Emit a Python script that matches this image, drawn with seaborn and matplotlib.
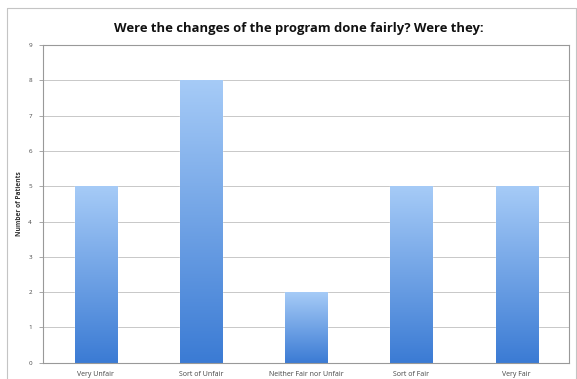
import numpy as np
import pandas as pd
import matplotlib
matplotlib.use("Agg")
import matplotlib.pyplot as plt
import seaborn as sns
from matplotlib.colors import LinearSegmentedColormap
from matplotlib.lines import Line2D

categories = ["Very Unfair", "Sort of Unfair", "Neither Fair nor Unfair", "Sort of Fair", "Very Fair"]
values = [5, 8, 2, 5, 5]
yticks = list(range(0, 10))

sns.set_theme(style="white")
plt.rcParams['font.family'] = ['Open Sans', 'DejaVu Sans']

df = pd.DataFrame({"cat": categories, "val": values})

fig = plt.figure(figsize=(5.77, 3.79), dpi=100)
ax = fig.add_axes([0.0745, 0.043, 0.912, 0.838])
sns.barplot(data=df, x="cat", y="val", ax=ax, width=0.40, color="#5b9be6", saturation=1)

ax.set_ylim(0, 9)
ax.set_xlim(-0.5, 4.5)
ax.set_yticks(yticks)
ax.set_yticklabels([str(t) for t in yticks], fontsize=4.5, color="#444444")
ax.set_xticks(range(len(categories)))
ax.set_xticklabels(categories, fontsize=5, color="#444444")
ax.set_xlabel("")
ax.set_ylabel("Number of Patients", fontsize=4.8, fontweight="bold", color="#333333", labelpad=4)
ax.yaxis.grid(True, color="#c8c8c8", linewidth=0.7)
ax.set_axisbelow(True)
ax.tick_params(axis="y", length=3, width=0.6, color="#999999", pad=5, left=True)
ax.tick_params(axis="x", length=0, width=0.6, color="#999999", pad=6, bottom=True)
for s in ax.spines.values():
    s.set_color("#999999")
    s.set_linewidth(0.8)

cmap = LinearSegmentedColormap.from_list("g", ["#3b7bd4", "#a6cbf7"])
grad = np.linspace(0, 1, 256).reshape(-1, 1)
for p in list(ax.patches):
    x0, y0 = p.get_x(), p.get_y()
    w, h = p.get_width(), p.get_height()
    im = ax.imshow(grad, extent=[x0, x0 + w, y0, y0 + h], origin="lower",
                   cmap=cmap, aspect="auto", zorder=p.get_zorder() + 0.1)
    im.set_clip_path(p)
ax.set_xlim(-0.5, 4.5)
ax.set_ylim(0, 9)

fig.text(0.518, 0.926, "Were the changes of the program done fairly? Were they:",
         ha="center", va="center", fontsize=9.4, fontweight="bold", color="#111111")

# outer chart-area frame (left, top, right edges)
bx0, bx1 = 6.5 / 577, 575.5 / 577
by1 = 1 - 7.5 / 379
for xs, ys in [([bx0, bx0], [0, by1]), ([bx0, bx1], [by1, by1]), ([bx1, bx1], [0, by1])]:
    fig.add_artist(Line2D(xs, ys, transform=fig.transFigure, color="#c4c4c4", linewidth=0.8))

fig.savefig("out.png", dpi=100)
